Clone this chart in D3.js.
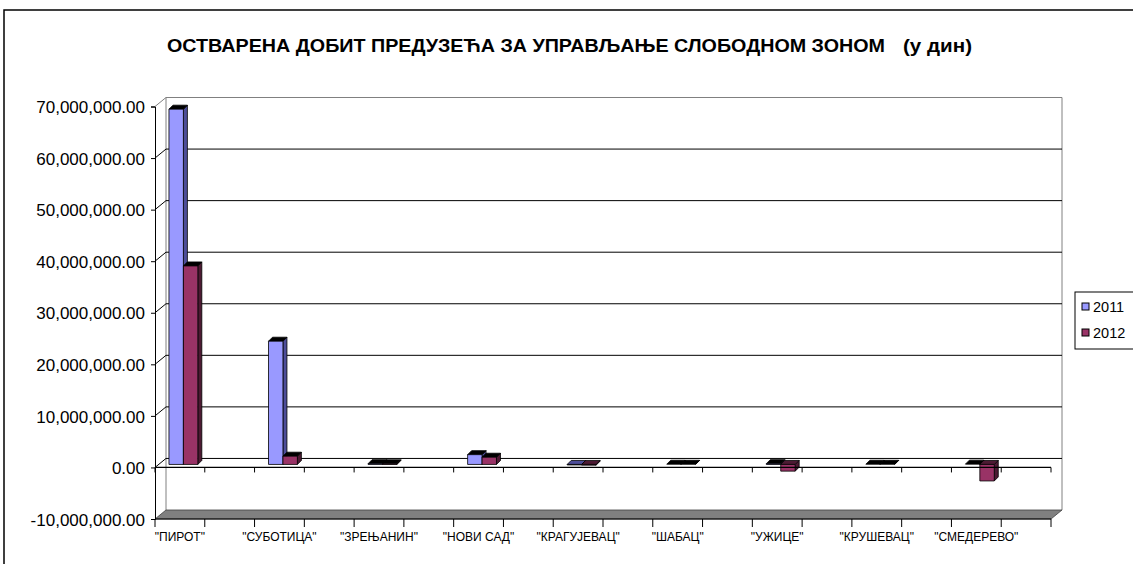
<!DOCTYPE html>
<html>
<head>
    <meta charset="utf-8">
    <style>
        body { margin: 0; background: #fff; }
        svg { font-family: "Liberation Sans", Arial, sans-serif; }
        .title { font-weight: bold; font-size: 18px; fill: #000; }
        .ylab { font-size: 17px; text-anchor: end; fill: #000; }
        .xlab { font-size: 12px; text-anchor: middle; fill: #000; }
        .leg { font-size: 14.5px; fill: #000; }
    </style>
    <script src="https://cdn.jsdelivr.net/npm/d3@7"></script>
</head>
<body>
<svg width="1133" height="564"></svg>
<script>
    // data
    var categories = ['"ПИРОТ"', '"СУБОТИЦА"', '"ЗРЕЊАНИН"', '"НОВИ САД"', '"КРАГУЈЕВАЦ"',
                      '"ШАБАЦ"', '"УЖИЦЕ"', '"КРУШЕВАЦ"', '"СМЕДЕРЕВО"'];
    var years = ["2011", "2012"];
    var values2011 = [68900000, 23900000, 150000, 1900000, -100000, 40000, 150000, 40000, 60000];
    var values2012 = [38500000, 1600000, 120000, 1400000, -150000, 30000, -1300000, 30000, -3200000];
    var yTicks = [-10000000, 0, 10000000, 20000000, 30000000, 40000000, 50000000, 60000000, 70000000];

    var series = [values2011, values2012];
    var front = ["#9999ff", "#993366"],
        side  = ["#4d4d99", "#4d1a33"],
        top   = ["#7373c6", "#7a2952"];

    var svg = d3.select("svg");

    // outer chart border
    svg.append("rect").attr("x", 4).attr("y", 10).attr("width", 1140).attr("height", 570)
       .attr("fill", "none").attr("stroke", "#000").attr("stroke-width", 1.5);

    // title
    svg.append("text").attr("class", "title").attr("x", 167).attr("y", 52)
       .attr("textLength", 718).attr("lengthAdjust", "spacingAndGlyphs")
       .text("ОСТВАРЕНА ДОБИТ ПРЕДУЗЕЋА ЗА УПРАВЉАЊЕ СЛОБОДНОМ ЗОНОМ");
    svg.append("text").attr("class", "title").attr("x", 903).attr("y", 52)
       .attr("textLength", 69).attr("lengthAdjust", "spacingAndGlyphs")
       .text("(у дин)");

    var x = d3.scaleBand().domain(categories).range([155, 1051]);
    var y = d3.scaleLinear().domain([-10000000, 70000000]).range([519, 106.5]);
    var half = x.bandwidth() / 2;
    var dx = 11, dy = -9;          // wall depth
    var bdx = 4, bdy = -3;         // bar front plane
    var ddx = 4, ddy = -4;         // bar depth
    var x0 = x.range()[0], x1 = x.range()[1];
    var yMin = y(-10000000), yMax = y(70000000);

    // back wall outline
    svg.append("path")
       .attr("d", "M" + (x0 + dx) + "," + (yMin + dy) + "V" + (yMax + dy) + "H" + (x1 + dx) + "V" + (yMin + dy))
       .attr("fill", "none").attr("stroke", "#808080").attr("stroke-width", 1);
    svg.append("line").attr("x1", x0).attr("y1", yMax).attr("x2", x0 + dx).attr("y2", yMax + dy)
       .attr("stroke", "#808080");

    // gridlines on back wall + side wall
    yTicks.filter(function(t) { return t > -10000000 && t < 70000000; }).forEach(function(t) {
        svg.append("line").attr("x1", x0 + dx).attr("x2", x1 + dx)
           .attr("y1", y(t) + dy).attr("y2", y(t) + dy).attr("stroke", "#000");
        svg.append("line").attr("x1", x0).attr("x2", x0 + dx)
           .attr("y1", y(t)).attr("y2", y(t) + dy).attr("stroke", "#000");
    });

    // floor
    svg.append("path")
       .attr("d", "M" + x0 + "," + yMin + "L" + (x0 + dx) + "," + (yMin + dy) + "L" + (x1 + dx) + "," + (yMin + dy) + "L" + x1 + "," + yMin + "Z")
       .attr("fill", "#808080").attr("stroke", "#404040").attr("stroke-width", 0.8);

    // bars
    var slots = [[0.2, 0.49], [0.49, 0.78]];
    series.forEach(function(vals, s) {
        vals.forEach(function(v, i) {
            var bx0 = x(categories[i]) + slots[s][0] * half + bdx,
                bx1 = x(categories[i]) + slots[s][1] * half + bdx,
                yz = y(0) + bdy,
                yv = y(v) + bdy,
                yt = Math.min(yz, yv), yb = Math.max(yz, yv);
            var g = svg.append("g").attr("stroke", "#000").attr("stroke-width", 0.8).attr("stroke-linejoin", "round");
            // side
            g.append("path").attr("fill", side[s])
             .attr("d", "M" + bx1 + "," + yt + "L" + (bx1 + ddx) + "," + (yt + ddy) + "L" + (bx1 + ddx) + "," + (yb + ddy) + "L" + bx1 + "," + yb + "Z");
            // top
            g.append("path").attr("fill", v < 0 ? side[s] : top[s])
             .attr("d", "M" + bx0 + "," + yt + "L" + (bx0 + ddx) + "," + (yt + ddy) + "L" + (bx1 + ddx) + "," + (yt + ddy) + "L" + bx1 + "," + yt + "Z");
            // front
            if (yb - yt > 0.5) {
                g.append("rect").attr("x", bx0).attr("y", yt).attr("width", bx1 - bx0).attr("height", yb - yt)
                 .attr("fill", front[s]);
            }
        });
    });

    // front axes
    var fmt = d3.format(",.2f");
    var yAxis = d3.axisLeft(y).tickValues(yTicks).tickSize(4)
                  .tickFormat(function(d) { return fmt(d).replace("\u2212", "-"); });
    var ya = svg.append("g").attr("transform", "translate(" + x0 + ",0)").call(yAxis);
    ya.select(".domain").attr("stroke", "#000");
    ya.selectAll("text").attr("class", "ylab").attr("font-size", null).attr("font-family", null)
      .attr("x", -10).attr("dy", "0.36em");

    var halfTicks = d3.range(0, categories.length * 2 + 1).map(function(k) { return x0 + k * half; });
    [0, -10000000].forEach(function(level) {
        svg.append("line").attr("x1", x0).attr("x2", x1).attr("y1", y(level)).attr("y2", y(level))
           .attr("stroke", "#000").attr("stroke-width", 1.2);
        halfTicks.forEach(function(tx) {
            svg.append("line").attr("x1", tx).attr("x2", tx).attr("y1", y(level)).attr("y2", y(level) + (level === 0 ? 5 : 8))
               .attr("stroke", "#000");
        });
    });

    // category labels
    svg.selectAll(".xlab").data(categories).enter().append("text")
       .attr("class", "xlab")
       .attr("x", function(d) { return x(d) + half / 2; })
       .attr("y", 541)
       .text(function(d) { return d; });

    // legend
    var leg = svg.append("g");
    leg.append("rect").attr("x", 1075).attr("y", 292).attr("width", 80).attr("height", 57)
       .attr("fill", "#fff").attr("stroke", "#000");
    years.forEach(function(yr, s) {
        leg.append("rect").attr("x", 1082).attr("y", 303 + s * 26).attr("width", 7).attr("height", 7)
           .attr("fill", front[s]).attr("stroke", "#000");
        leg.append("text").attr("class", "leg").attr("x", 1093).attr("y", 311.5 + s * 26).text(yr);
    });
</script>
</body>
</html>
